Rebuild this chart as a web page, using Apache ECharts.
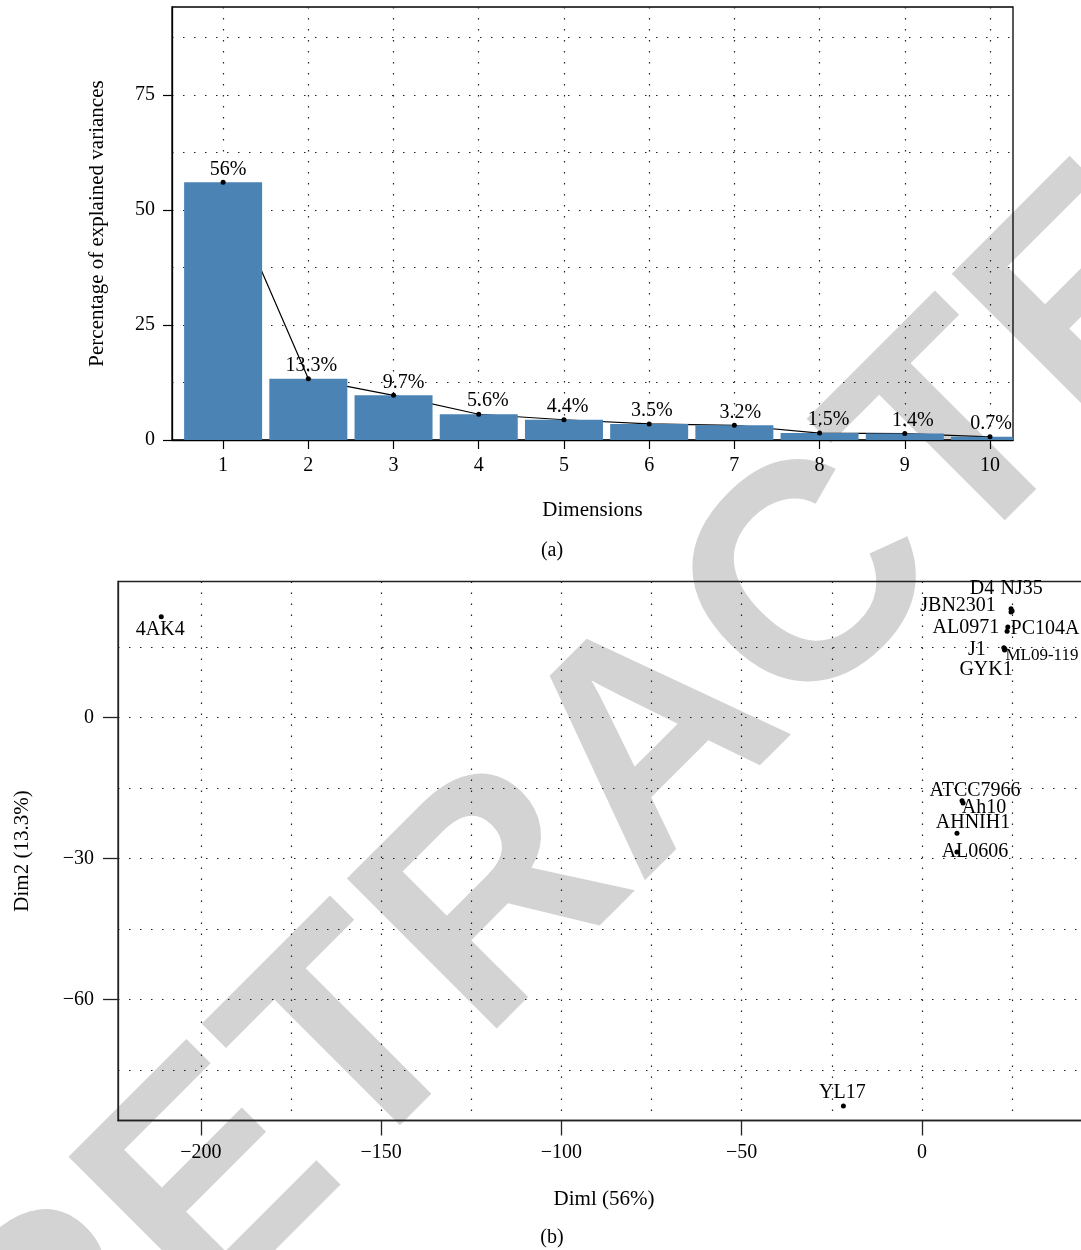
<!DOCTYPE html>
<html>
<head>
<meta charset="utf-8">
<script src="https://cdn.jsdelivr.net/npm/echarts@6/dist/echarts.min.js"></script>
<style>
  html, body { margin: 0; padding: 0; background: #fff; }
  #chart { width: 1081px; height: 1250px; }
</style>
</head>
<body>
<div id="chart"></div>
<script>
// Scree plot: share of variance explained by each principal dimension
const dimensions = [1, 2, 3, 4, 5, 6, 7, 8, 9, 10];
const explainedVariance = [56, 13.3, 9.7, 5.6, 4.4, 3.5, 3.2, 1.5, 1.4, 0.7];
const varianceTicks = [0, 25, 50, 75];
const varianceGrid = [0, 12.5, 25, 37.5, 50, 62.5, 75, 87.5];

// Individuals map: strain coordinates on the first two dimensions
const strains = ['4AK4', 'D4', 'NJ35', 'JBN2301', 'AL0971', 'PC104A', 'J1', 'ML09-119',
                 'GYK1', 'ATCC7966', 'Ah10', 'AHNIH1', 'AL0606', 'YL17'];
const dim1 = [-211.0, 24.7, 25.0, 24.7, 23.8, 23.6, 22.7, 23.0, 22.9, 11.1, 11.4, 9.7, 9.7, -21.8];
const dim2 = [21.5, 23.2, 22.7, 22.5, 19.3, 18.4, 14.9, 14.6, 14.4, -17.7, -18.2, -24.6, -28.6, -82.7];
const dim1Ticks = [-200, -150, -100, -50, 0];
const dim1Grid = [-200, -175, -150, -125, -100, -75, -50, -25, 0, 25];
const dim2Ticks = [-60, -30, 0];
const dim2Grid = [-75, -60, -45, -30, -15, 0, 15];

// Label placement (pixel nudges) so crowded names stay readable
const varianceLabelDx = [5, 3, 10, 9, 3.5, 2.7, 6, 9, 8, 1];
const strainLabelOffset = {
  '4AK4': [-1, 13], 'D4': [-29, -20], 'NJ35': [9.5, -22], 'JBN2301': [-53, -6],
  'AL0971': [-42, 1], 'PC104A': [38, -3], 'J1': [-27, 2], 'ML09-119': [37, 6],
  'GYK1': [-18.5, 20], 'ATCC7966': [13, -10], 'Ah10': [21, 5], 'AHNIH1': [16, -10],
  'AL0606': [18, 0], 'YL17': [-1, -13]
};

const SERIF = '"Liberation Serif", "Times New Roman", serif';
const INK = '#000';
const BAR_COLOR = '#4a83b4';
const BAR_WIDTH = 78;
const dotted = { type: [1.5, 9.5], color: '#222', width: 1.2 };
const minus = v => String(v).replace('-', '\u2212');
const plainLabel = { fontFamily: SERIF, fontSize: 20, color: INK, opacity: 1, textBorderWidth: 0, textShadowBlur: 0 };

const chart = echarts.init(document.getElementById('chart'), null, { renderer: 'canvas' });

const screeData = dimensions.map((d, i) => [d, explainedVariance[i]]);

chart.setOption({
  backgroundColor: '#ffffff',
  animation: false,
  textStyle: { fontFamily: SERIF, color: INK },
  grid: [
    { left: 172, top: 7, width: 841, height: 433, show: true, borderColor: INK, borderWidth: 1.3,
      backgroundColor: 'transparent', containLabel: false, outerBoundsMode: 'none' },
    { left: 118, top: 581.5, width: 972, height: 539, show: true, borderColor: '#222', borderWidth: 1.3,
      backgroundColor: 'transparent', containLabel: false, outerBoundsMode: 'none' }
  ],
  xAxis: [
    {
      gridIndex: 0, type: 'value', min: 0.4, max: 10.27, splitNumber: 10,
      name: 'Dimensions', nameLocation: 'middle', nameGap: 60,
      nameTextStyle: { fontFamily: SERIF, fontSize: 21, color: INK },
      axisLine: { show: true, onZero: false, lineStyle: { color: INK, width: 1.3 } },
      axisTick: { show: true, length: 9, customValues: dimensions, lineStyle: { color: INK, width: 1.2 } },
      axisLabel: { customValues: dimensions, margin: 16, fontFamily: SERIF, fontSize: 20, color: INK },
      splitLine: { show: true, lineStyle: dotted }
    },
    {
      gridIndex: 1, type: 'value', min: -223, max: 46.6,
      name: 'Diml (56%)', nameLocation: 'middle', nameGap: 68,
      nameTextStyle: { fontFamily: SERIF, fontSize: 21, color: INK },
      axisLine: { show: true, onZero: false, lineStyle: { color: '#222', width: 1.3 } },
      axisTick: { show: true, length: 15, customValues: dim1Ticks, lineStyle: { color: '#222', width: 1.3 } },
      axisLabel: { customValues: dim1Ticks, margin: 22, fontFamily: SERIF, fontSize: 20, color: INK, formatter: minus },
      splitLine: { show: false }
    },
    {
      gridIndex: 1, type: 'value', min: -223, max: 46.6,
      axisLine: { show: false }, axisLabel: { show: false },
      axisTick: { show: false, customValues: dim1Grid },
      splitLine: { show: true, lineStyle: dotted }
    }
  ],
  yAxis: [
    {
      gridIndex: 0, type: 'value', min: 0, max: 94.1,
      name: 'Percentage of explained variances', nameLocation: 'middle', nameGap: 64, nameRotate: 90,
      nameTextStyle: { fontFamily: SERIF, fontSize: 21, color: INK },
      axisLine: { show: true, onZero: false, lineStyle: { color: INK, width: 1.3 } },
      axisTick: { show: true, length: 9, customValues: varianceTicks, lineStyle: { color: INK, width: 1.2 } },
      axisLabel: { customValues: varianceTicks, margin: 17, fontFamily: SERIF, fontSize: 20, color: INK },
      splitLine: { show: false }
    },
    {
      gridIndex: 0, type: 'value', min: 0, max: 94.1,
      axisLine: { show: false }, axisLabel: { show: false },
      axisTick: { show: false, customValues: varianceGrid },
      splitLine: { show: true, lineStyle: dotted }
    },
    {
      gridIndex: 1, type: 'value', min: -85.8, max: 29,
      name: 'Dim2 (13.3%)', nameLocation: 'middle', nameGap: 85, nameRotate: 90,
      nameTextStyle: { fontFamily: SERIF, fontSize: 21, color: INK },
      axisLine: { show: true, onZero: false, lineStyle: { color: '#222', width: 1.3 } },
      axisTick: { show: true, length: 15, customValues: dim2Ticks, lineStyle: { color: '#222', width: 1.3 } },
      axisLabel: { customValues: dim2Ticks, margin: 24, fontFamily: SERIF, fontSize: 20, color: INK, formatter: minus },
      splitLine: { show: false }
    },
    {
      gridIndex: 1, type: 'value', min: -85.8, max: 29,
      axisLine: { show: false }, axisLabel: { show: false },
      axisTick: { show: false, customValues: dim2Grid },
      splitLine: { show: true, lineStyle: dotted }
    }
  ],
  series: [
    {
      // trend line joining the bar tops (sits under the bars)
      type: 'line', xAxisIndex: 0, yAxisIndex: 0, data: screeData, z: 1,
      showSymbol: false, lineStyle: { color: '#000', width: 1.2 }, silent: true
    },
    {
      // bars, cut off at the plot frame like the last dimension is
      type: 'custom', xAxisIndex: 0, yAxisIndex: 0, data: screeData, z: 2, silent: true,
      encode: { x: 0, y: 1 },
      renderItem: (params, api) => {
        const x = api.value(0);
        const top = api.coord([x, api.value(1)]);
        const base = api.coord([x, 0]);
        const cs = params.coordSys;
        const shape = echarts.graphic.clipRectByRect(
          { x: top[0] - BAR_WIDTH / 2, y: top[1], width: BAR_WIDTH, height: base[1] - top[1] },
          { x: cs.x, y: cs.y, width: cs.width, height: cs.height }
        );
        return shape ? { type: 'rect', shape: shape, style: { fill: BAR_COLOR } } : null;
      }
    },
    {
      // points on top of the bars, labelled with their percentage
      type: 'scatter', xAxisIndex: 0, yAxisIndex: 0, z: 3, symbolSize: 5,
      itemStyle: { color: '#000', opacity: 1 }, silent: true,
      data: screeData.map((p, i) => ({
        value: p,
        label: { offset: [varianceLabelDx[i], -13] }
      })),
      label: Object.assign({ show: true, position: 'inside', formatter: p => p.value[1] + '%' }, plainLabel)
    },
    {
      type: 'scatter', xAxisIndex: 1, yAxisIndex: 2, z: 3, symbolSize: 5,
      itemStyle: { color: '#000', opacity: 1 }, silent: true,
      data: strains.map((name, i) => ({
        name: name,
        value: [dim1[i], dim2[i]],
        label: { offset: strainLabelOffset[name], fontSize: name === 'ML09-119' ? 17 : 20 }
      })),
      label: Object.assign({ show: true, position: 'inside', formatter: p => p.name }, plainLabel)
    }
  ],
  graphic: [
    {
      type: 'text', z: -100, silent: true,
      x: 658, y: 747, rotation: Math.PI / 4,
      style: {
        text: 'RETRACTED', fill: '#d3d3d3',
        font: 'bold 308px "Liberation Sans", Arial, sans-serif',
        align: 'center', verticalAlign: 'middle'
      }
    },
    {
      type: 'text', silent: true, x: 552, y: 551,
      style: { text: '(a)', fill: INK, font: '20px ' + SERIF, align: 'center', verticalAlign: 'middle' }
    },
    {
      type: 'text', silent: true, x: 552, y: 1238,
      style: { text: '(b)', fill: INK, font: '20px ' + SERIF, align: 'center', verticalAlign: 'middle' }
    }
  ]
});
</script>
</body>
</html>
